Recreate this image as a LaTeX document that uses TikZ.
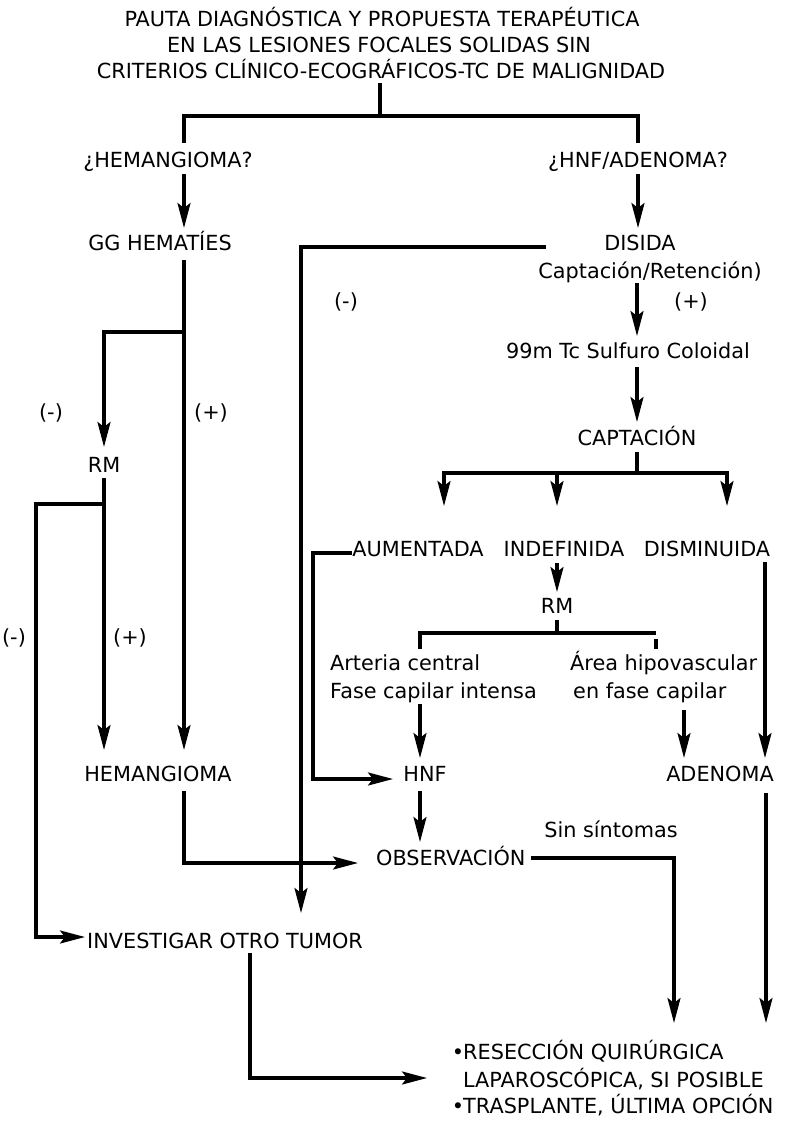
\documentclass[tikz,border=0pt]{standalone}
\usepackage{fontspec}
\setmainfont{DejaVu Sans}
\usetikzlibrary{arrows.meta}
\begin{document}
\begin{tikzpicture}[x=1pt,y=-1pt,
  lbl/.style={font=\fontsize{20.8}{25}\selectfont, inner sep=0pt, anchor=base},
  lblw/.style={lbl, anchor=base west},
  ln/.style={line width=3.2pt},
  arr/.style={ln,-{Stealth[length=25pt,width=13pt,inset=5pt]}}]
\useasboundingbox (0,0) rectangle (790,1121);
% title
\node[lbl] (t1) at (382,27) {PAUTA DIAGNÓSTICA Y PROPUESTA TERAPÉUTICA};
\node[lbl] (t2) at (379,53) {EN LAS LESIONES FOCALES SOLIDAS SIN};
\node[lbl] (t3) at (381,79) {CRITERIOS CLÍNICO-ECOGRÁFICOS-TC DE MALIGNIDAD};
% level 1
\node[lbl] (hq) at (168,167) {¿HEMANGIOMA?};
\node[lbl] (hnfq) at (638,167) {¿HNF/ADENOMA?};
\node[lbl] (gg) at (160,250) {GG HEMATÍES};
\node[lbl] (disida) at (640,250) {DISIDA};
\node[lbl] (capret) at (650,278) {Captación/Retención)};
\node[lbl] (mdis) at (346,308) {(-)};
\node[lbl] (pdis) at (691,308) {(+)};
\node[lbl] (sulf) at (628,358) {99m Tc Sulfuro Coloidal};
\node[lbl] (capt) at (637,445) {CAPTACIÓN};
\node[lbl] (aum) at (418,556) {AUMENTADA};
\node[lbl] (indef) at (564,556) {INDEFINIDA};
\node[lbl] (dism) at (707,556) {DISMINUIDA};
\node[lbl] (rm2) at (557,613) {RM};
\node[lblw] (art) at (330,670) {Arteria central};
\node[lblw] (fase) at (330,698) {Fase capilar intensa};
\node[lblw] (area) at (570,670) {Área hipovascular};
\node[lblw] (enfase) at (573,698) {en fase capilar};
\node[lbl] (hnf) at (425,781) {HNF};
\node[lbl] (aden) at (720,781) {ADENOMA};
% left branch
\node[lbl] (mgg) at (51,419) {(-)};
\node[lbl] (pgg) at (211,419) {(+)};
\node[lbl] (rm1) at (104,472) {RM};
\node[lbl] (mrm) at (14,644) {(-)};
\node[lbl] (prm) at (130,644) {(+)};
\node[lbl] (hem) at (158,781) {HEMANGIOMA};
\node[lblw] (obs) at (376,865) {OBSERVACIÓN};
\node[lbl] (sin) at (611,837) {Sin síntomas};
\node[lblw] (inv) at (87,948) {INVESTIGAR OTRO TUMOR};
% result
\node[lbl] (b1) at (458,1059) {•};
\node[lblw] (r1) at (463,1059) {RESECCIÓN QUIRÚRGICA};
\node[lblw] (r2) at (463,1087) {LAPAROSCÓPICA, SI POSIBLE};
\node[lbl] (b2) at (458,1113) {•};
\node[lblw] (r3) at (463,1113) {TRASPLANTE, ÚLTIMA OPCIÓN};
% junction coordinates
\coordinate (top) at (380,83);
\coordinate (topj) at (380,116);
% connectors
\draw[ln] (top) -- (topj);
\draw[ln] (184,143) -- (184,116) -- (638,116) -- (638,143);
\draw[arr] (184,174) -- (184,228);
\draw[arr] (638,174) -- (638,228);
\draw[arr] (184,260) -- (184,750);
\draw[arr] (184,332) -- (104,332) -- (104,447);
\draw[arr] (104,478) -- (104,750);
\draw[arr] (104,504) -- (36,504) -- (36,937) -- (85,937);
\draw[arr] (184,791) -- (184,863) -- (358,863);
\draw[arr] (546,247) -- (301,247) -- (301,913);
\draw[arr] (637,283) -- (637,336);
\draw[arr] (637,367) -- (637,422);
\draw[ln] (637,452) -- (637,473);
\draw[ln] (444,473) -- (727,473);
\draw[arr] (444,471.4) -- (444,506);
\draw[arr] (557,473) -- (557,506);
\draw[arr] (727,471.4) -- (727,506);
\draw[arr] (352,553) -- (313,553) -- (313,779) -- (393,779);
\draw[arr] (557,563) -- (557,592);
\draw[ln] (557,620) -- (557,633);
\draw[ln] (420,649) -- (420,633) -- (656,633);
\draw[ln] (656,639) -- (656,649);
\draw[arr] (420,704) -- (420,758);
\draw[arr] (684,710) -- (684,758);
\draw[arr] (765,562) -- (765,758);
\draw[arr] (420,791) -- (420,842);
\draw[arr] (531,858) -- (674,858) -- (674,1023);
\draw[arr] (766,793) -- (766,1023);
\draw[arr] (250,953) -- (250,1078) -- (427,1078);
\end{tikzpicture}
\end{document}
